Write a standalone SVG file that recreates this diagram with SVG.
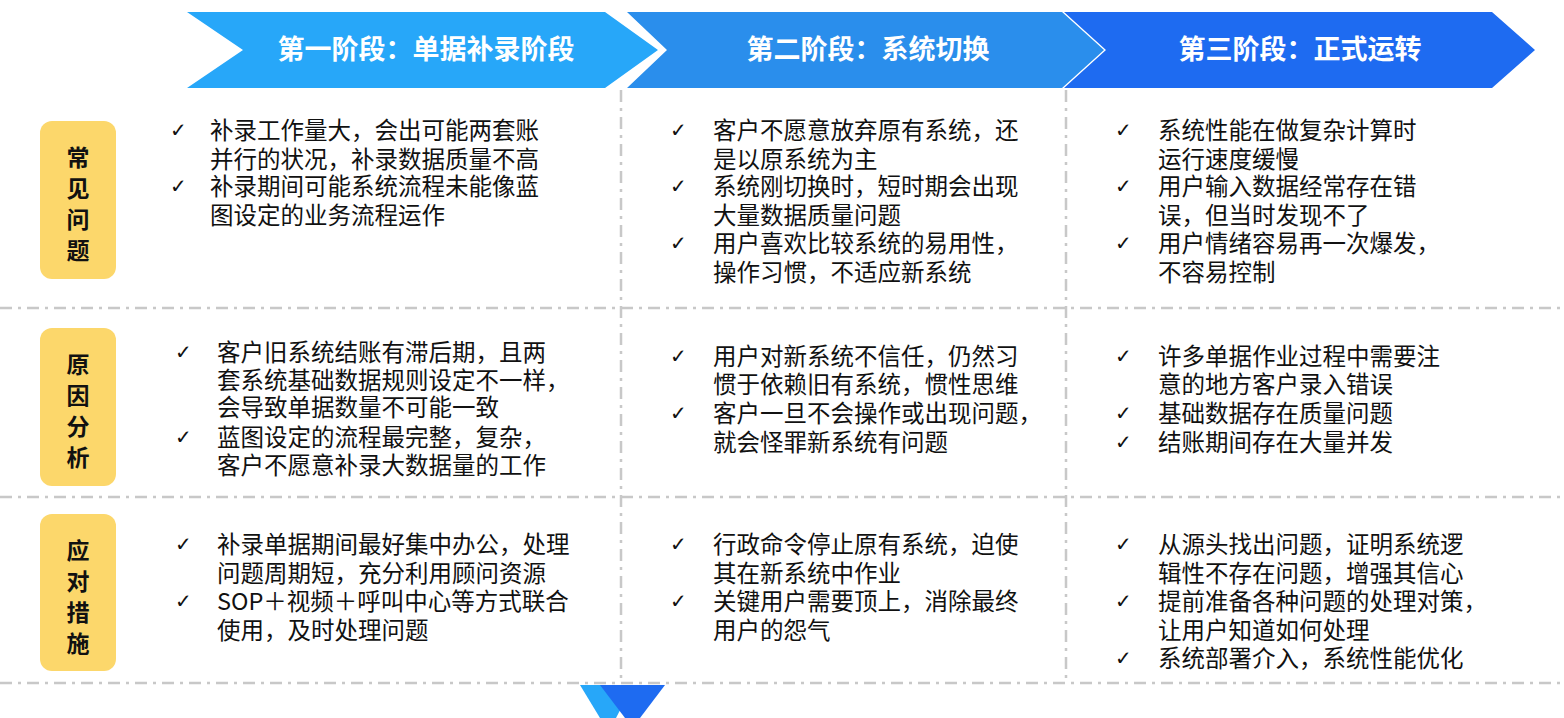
<svg xmlns="http://www.w3.org/2000/svg" width="1564" height="718" viewBox="0 0 1564 718">
<style>
.h{font-family:"Noto Sans CJK SC","Noto Sans",sans-serif;font-weight:bold;font-size:27px;fill:#fff;text-anchor:middle}
.t{font-family:"Noto Sans CJK SC","Noto Sans",sans-serif;font-size:23.5px;fill:#111}
.k{font-family:"DejaVu Sans",sans-serif;font-size:20px;fill:#111}
.y{fill:#FCD76B}
.yl{font-family:"Noto Sans CJK SC",sans-serif;font-weight:bold;font-size:23px;fill:#111;text-anchor:middle}
.d{stroke:#c8c8c8;stroke-width:2.5;stroke-dasharray:12 6 3 6;fill:none}
</style>
<rect width="1564" height="718" fill="#fff"/>
<g id="connectors">
<path class="d" d="M0 308H1564M0 497H1564M0 683H1564M621 90V683M1066 90V683"/>
</g>
<g id="stage1"><polygon points="187,12 605,12 658,50 605,88 187,88 243,50" fill="#27A7F9"/><text class="h" x="426" y="59">第一阶段：单据补录阶段</text></g>
<g id="stage2"><polygon points="627,12 1062,12 1104,50 1062,88 627,88 667,50" fill="#2A8EEC"/><text class="h" x="868" y="59">第二阶段：系统切换</text></g>
<g id="stage3"><polygon points="1064,12 1492,12 1535,50 1492,88 1064,88 1106,50" fill="#1E6BF1"/><text class="h" x="1300" y="59">第三阶段：正式运转</text></g>
<g id="label1"><rect class="y" x="40" y="121" width="76" height="158" rx="12"/><text class="yl"><tspan x="78" y="166">常</tspan><tspan x="78" y="197">见</tspan><tspan x="78" y="228">问</tspan><tspan x="78" y="259">题</tspan></text></g>
<g id="label2"><rect class="y" x="40" y="328" width="76" height="158" rx="12"/><text class="yl"><tspan x="78" y="373">原</tspan><tspan x="78" y="404">因</tspan><tspan x="78" y="435">分</tspan><tspan x="78" y="466">析</tspan></text></g>
<g id="label3"><rect class="y" x="40" y="514" width="76" height="157" rx="12"/><text class="yl"><tspan x="78" y="559">应</tspan><tspan x="78" y="590">对</tspan><tspan x="78" y="621">措</tspan><tspan x="78" y="652">施</tspan></text></g>
<g id="r1c1">
<text class="k" x="170" y="137">✓</text><text class="k" x="170" y="193">✓</text>
<text class="t"><tspan x="210" y="139">补录工作量大，会出可能两套账</tspan><tspan x="210" y="168">并行的状况，补录数据质量不高</tspan><tspan x="210" y="195">补录期间可能系统流程未能像蓝</tspan><tspan x="210" y="224">图设定的业务流程运作</tspan></text>
</g>
<g id="r1c2">
<text class="k" x="670" y="137">✓</text><text class="k" x="670" y="193">✓</text><text class="k" x="670" y="250">✓</text>
<text class="t"><tspan x="713" y="139">客户不愿意放弃原有系统，还</tspan><tspan x="713" y="168">是以原系统为主</tspan><tspan x="713" y="195">系统刚切换时，短时期会出现</tspan><tspan x="713" y="224">大量数据质量问题</tspan><tspan x="713" y="252">用户喜欢比较系统的易用性，</tspan><tspan x="713" y="281">操作习惯，不适应新系统</tspan></text>
</g>
<g id="r1c3">
<text class="k" x="1115" y="137">✓</text><text class="k" x="1115" y="193">✓</text><text class="k" x="1115" y="250">✓</text>
<text class="t"><tspan x="1158" y="139">系统性能在做复杂计算时</tspan><tspan x="1158" y="168">运行速度缓慢</tspan><tspan x="1158" y="195">用户输入数据经常存在错</tspan><tspan x="1158" y="224">误，但当时发现不了</tspan><tspan x="1158" y="252">用户情绪容易再一次爆发，</tspan><tspan x="1158" y="281">不容易控制</tspan></text>
</g>
<g id="r2c1">
<text class="k" x="175" y="359">✓</text><text class="k" x="175" y="444">✓</text>
<text class="t"><tspan x="217" y="361">客户旧系统结账有滞后期，且两</tspan><tspan x="217" y="389">套系统基础数据规则设定不一样，</tspan><tspan x="217" y="416">会导致单据数量不可能一致</tspan><tspan x="217" y="446">蓝图设定的流程最完整，复杂，</tspan><tspan x="217" y="474">客户不愿意补录大数据量的工作</tspan></text>
</g>
<g id="r2c2">
<text class="k" x="670" y="363">✓</text><text class="k" x="670" y="420">✓</text>
<text class="t"><tspan x="713" y="365">用户对新系统不信任，仍然习</tspan><tspan x="713" y="393">惯于依赖旧有系统，惯性思维</tspan><tspan x="713" y="422">客户一旦不会操作或出现问题，</tspan><tspan x="713" y="451">就会怪罪新系统有问题</tspan></text>
</g>
<g id="r2c3">
<text class="k" x="1115" y="363">✓</text><text class="k" x="1115" y="420">✓</text><text class="k" x="1115" y="449">✓</text>
<text class="t"><tspan x="1158" y="365">许多单据作业过程中需要注</tspan><tspan x="1158" y="393">意的地方客户录入错误</tspan><tspan x="1158" y="422">基础数据存在质量问题</tspan><tspan x="1158" y="451">结账期间存在大量并发</tspan></text>
</g>
<g id="r3c1">
<text class="k" x="175" y="551">✓</text><text class="k" x="175" y="608">✓</text>
<text class="t"><tspan x="217" y="553">补录单据期间最好集中办公，处理</tspan><tspan x="217" y="582">问题周期短，充分利用顾问资源</tspan><tspan x="217" y="610">SOP＋视频＋呼叫中心等方式联合</tspan><tspan x="217" y="639">使用，及时处理问题</tspan></text>
</g>
<g id="r3c2">
<text class="k" x="670" y="551">✓</text><text class="k" x="670" y="608">✓</text>
<text class="t"><tspan x="713" y="553">行政命令停止原有系统，迫使</tspan><tspan x="713" y="582">其在新系统中作业</tspan><tspan x="713" y="610">关键用户需要顶上，消除最终</tspan><tspan x="713" y="639">用户的怨气</tspan></text>
</g>
<g id="r3c3">
<text class="k" x="1115" y="551">✓</text><text class="k" x="1115" y="608">✓</text><text class="k" x="1115" y="665">✓</text>
<text class="t"><tspan x="1158" y="553">从源头找出问题，证明系统逻</tspan><tspan x="1158" y="582">辑性不存在问题，增强其信心</tspan><tspan x="1158" y="610">提前准备各种问题的处理对策，</tspan><tspan x="1158" y="639">让用户知道如何处理</tspan><tspan x="1158" y="667">系统部署介入，系统性能优化</tspan></text>
</g>
<g id="bottom">
<polygon points="580,685 633,685 616,718 600,718" fill="#27A7F9"/>
<polygon points="600,685 665,685 640,718 625,718" fill="#1E6BF1"/>
</g>
</svg>
